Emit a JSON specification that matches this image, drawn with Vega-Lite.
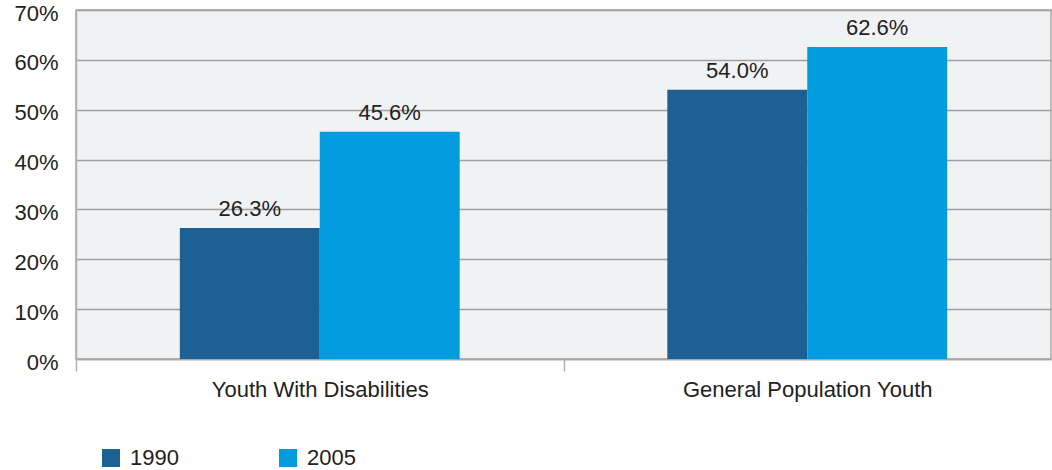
{
  "$schema": "https://vega.github.io/schema/vega-lite/v6.json",
  "autosize": {"type": "none"},
  "padding": {"left": 76, "top": 10, "right": 1, "bottom": 111},
  "width": 975,
  "height": 349,
  "background": "white",
  "config": {
    "font": "Liberation Sans",
    "view": {"fill": "#f1f2f4", "stroke": "#a8a8a8", "strokeWidth": 1.5}
  },
  "data": {
    "values": [
      {"group": "Youth With Disabilities", "year": "1990", "value": 0.263},
      {"group": "Youth With Disabilities", "year": "2005", "value": 0.456},
      {"group": "General Population Youth", "year": "1990", "value": 0.540},
      {"group": "General Population Youth", "year": "2005", "value": 0.626}
    ]
  },
  "encoding": {
    "x": {
      "field": "group",
      "type": "nominal",
      "sort": ["Youth With Disabilities", "General Population Youth"],
      "scale": {"paddingInner": 0.426, "paddingOuter": 0.213},
      "axis": {
        "title": null,
        "labelAngle": 0,
        "labelFontSize": 22,
        "labelLimit": 0,
        "labelColor": "#222222",
        "labelPadding": 8,
        "tickOffset": -243.75,
        "labelOffset": 243.75,
        "tickSize": 12,
        "tickColor": "#b0b0b0",
        "tickWidth": 1.5,
        "domainColor": "#a8a8a8",
        "domainWidth": 1.5
      }
    },
    "xOffset": {"field": "year", "type": "nominal", "scale": {"paddingInner": 0, "paddingOuter": 0}},
    "y": {
      "field": "value",
      "type": "quantitative",
      "scale": {"domain": [0, 0.7], "nice": false},
      "axis": {
        "title": null,
        "format": ".0%",
        "values": [0, 0.1, 0.2, 0.3, 0.4, 0.5, 0.6, 0.7],
        "labelFontSize": 22,
        "labelColor": "#222222",
        "labelPadding": 18,
        "labelOffset": 3,
        "labelFlush": false,
        "ticks": false,
        "domainColor": "#b0b0b0",
        "domainWidth": 1.5,
        "gridColor": "#a0a0a0",
        "gridWidth": 1.5
      }
    }
  },
  "layer": [
    {
      "mark": {"type": "bar"},
      "encoding": {
        "color": {
          "field": "year",
          "type": "nominal",
          "scale": {"domain": ["1990", "2005"], "range": ["#1c6094", "#009cde"]},
          "legend": {
            "title": null,
            "orient": "none",
            "legendX": 24,
            "legendY": 437,
            "direction": "horizontal",
            "symbolType": "square",
            "symbolSize": 324,
            "symbolStrokeWidth": 0,
            "labelFontSize": 22,
            "labelColor": "#222222",
            "labelOffset": 8,
            "columnPadding": 98
          }
        }
      }
    },
    {
      "mark": {"type": "text", "baseline": "bottom", "dy": -7, "fontSize": 22, "color": "#222222"},
      "encoding": {
        "text": {"field": "value", "type": "quantitative", "format": ".1%"}
      }
    }
  ]
}
